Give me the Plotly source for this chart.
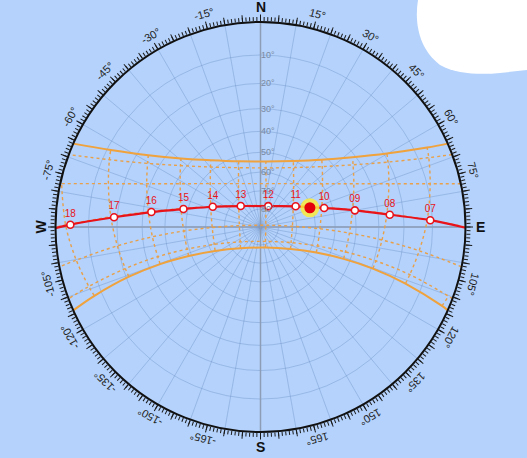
import numpy as np
import plotly.graph_objects as go

# ------------------------------------------------------------------ data
ALT_TICKS = [10, 20, 30, 40, 50, 60, 70, 80]
ALT_TICK_TEXT = ["10°", "20°", "30°", "40°", "50°", "60°", "70°", "80°"]

AZ_LABEL_ANGLES = [15, 30, 45, 60, 75, 105, 120, 135, 150, 165,
                   -165, -150, -135, -120, -105, -75, -60, -45, -30, -15]
AZ_LABEL_TEXT = ["15°", "30°", "45°", "60°", "75°", "105°", "120°", "135°", "150°", "165°",
                 "-165°", "-150°", "-135°", "-120°", "-105°", "-75°", "-60°", "-45°", "-30°", "-15°"]
CARDINAL_ANGLES = [0, 90, 180, -90]
CARDINAL_TEXT = ["N", "E", "S", "W"]

# today's sun path (azimuth deg from N, clockwise; altitude deg)
DAY_HOURS = ["07", "08", "09", "10", "11", "12", "13", "14", "15", "16", "17", "18"]
DAY_AZ = [87.7, 84.6, 80.0, 73.4, 59.5, 20.4, -43.3, -67.0, -76.9, -82.2, -86.2, -89.3]
DAY_ALT = [10.7, 25.3, 39.9, 54.1, 67.5, 77.6, 74.0, 61.6, 47.8, 33.5, 18.8, 4.3]
DAY_RISE_AZ, DAY_SET_AZ = 90.2, -90.3
SUN_AZ, SUN_ALT = 68.7, 61.0

# grid of sun positions: rows = dates, columns = clock hours 06..18
GRID_HOURS = [6, 7, 8, 9, 10, 11, 12, 13, 14, 15, 16, 17, 18]
JUN_AZ = [None, 64.5, 59.8, 52.8, 42.3, 26.4, 4.7, -18.3, -36.7, -49.2, -57.4, -62.8, None]
JUN_ALT = [None, 6.0, 19.0, 31.2, 42.1, 50.4, 54.4, 52.7, 45.8, 35.8, 24.0, 11.2, None]
MAY_AZ = [None, 67.6, 63.0, 56.1, 45.6, 29.0, 5.3, -20.3, -39.8, -52.5, -60.6, -66.0, None]
MAY_ALT = [None, 6.8, 20.2, 32.9, 44.3, 53.3, 57.7, 55.7, 48.3, 37.6, 25.4, 12.2, None]
APR_AZ = [None, 75.7, 71.4, 65.1, 55.1, 37.4, 7.2, -26.9, -49.2, -61.7, -69.2, -74.1, -77.7]
APR_ALT = [None, 9.0, 23.1, 36.7, 49.5, 60.2, 65.9, 63.3, 54.1, 42.0, 28.6, 14.7, 0.4]
MAR_AZ = [None, 87.5, 84.0, 79.4, 72.2, 57.4, 14.2, -45.6, -67.8, -77.0, -82.3, -86.1, -89.4]
MAR_ALT = [None, 11.7, 26.4, 40.9, 55.1, 68.5, 77.7, 73.1, 60.6, 46.6, 32.2, 17.6, 2.9]
FEB_AZ = [None, 98.5, 96.1, 93.9, 91.7, 88.6, 71.5, -86.4, -90.6, -93.0, -95.2, -97.5, -100.2]
FEB_ALT = [None, 13.9, 28.4, 43.0, 57.7, 72.3, 86.9, 78.2, 63.5, 48.9, 34.2, 19.7, 5.2]
JAN_AZ = [110.2, 107.7, 106.4, 106.3, 108.4, 117.1, 160.6, -126.3, -110.6, -106.8, -106.1, -107.1, -109.1]
JAN_ALT = [1.3, 15.2, 29.2, 43.3, 57.3, 71.0, 81.5, 76.0, 62.9, 49.0, 34.9, 20.8, 6.9]
DEC_AZ = [113.5, 111.3, 110.3, 111.0, 114.6, 126.2, 166.4, -136.7, -117.8, -112.0, -110.3, -110.7, -112.5]
DEC_ALT = [2.0, 15.6, 29.4, 43.1, 56.7, 69.4, 78.2, 73.8, 61.9, 48.6, 34.9, 21.1, 7.5]
# sunrise azimuth of each row (sunset is the mirror)
RISE_AZ = {"JUN": 66.0, "MAY": 69.3, "APR": 77.8, "MAR": 90.0, "FEB": 101.2, "JAN": 110.5, "DEC": 114.0}

ROWS = {"JUN": (JUN_AZ, JUN_ALT), "MAY": (MAY_AZ, MAY_ALT), "APR": (APR_AZ, APR_ALT),
        "MAR": (MAR_AZ, MAR_ALT), "FEB": (FEB_AZ, FEB_ALT), "JAN": (JAN_AZ, JAN_ALT),
        "DEC": (DEC_AZ, DEC_ALT)}
SOLID_ROWS = ["JUN", "DEC"]
ROW_ORDER_S_TO_N = ["DEC", "JAN", "FEB", "MAR", "APR", "MAY", "JUN"]

# ------------------------------------------------------------------ style
BG = "#b4d2fb"
GRID = "rgba(100,135,190,0.36)"
AXIS = "#8d9db6"
ORANGE = "#f0a23c"
ORANGE_D = "#e9a048"
RED = "#e8121a"
FONT = "Liberation Sans, Arial, sans-serif"


def stereo(alt):
    """Stereographic radius of an altitude (zenith = 0, horizon = 1)."""
    return np.tan(np.radians(90.0 - np.asarray(alt, dtype=float)) / 2.0)


fig = go.Figure()

# N-S and E-W axes
fig.add_trace(go.Scatterpolar(r=[1, 0, 1], theta=[0, 0, 180], mode="lines",
                              line=dict(color=AXIS, width=1.5), hoverinfo="skip", subplot="polar"))
fig.add_trace(go.Scatterpolar(r=[1, 0, 1], theta=[90, 90, 270], mode="lines",
                              line=dict(color=AXIS, width=1.5), hoverinfo="skip", subplot="polar"))

# date lines
for name in ROW_ORDER_S_TO_N:
    az, alt = ROWS[name]
    th = [RISE_AZ[name]] + [a for a in az if a is not None] + [-RISE_AZ[name]]
    al = [0.0] + [h for h in alt if h is not None] + [0.0]
    solid = name in SOLID_ROWS
    fig.add_trace(go.Scatterpolar(
        r=stereo(al), theta=th, mode="lines",
        line=dict(color=ORANGE if solid else ORANGE_D, width=2 if solid else 1.4,
                  dash="solid" if solid else "3px,3px", shape="spline", smoothing=1),
        hoverinfo="skip", subplot="polar"))

# hour lines
for i, hr in enumerate(GRID_HOURS):
    th, al = [], []
    for name in ROW_ORDER_S_TO_N:
        az, alt = ROWS[name]
        if az[i] is not None:
            th.append(az[i])
            al.append(alt[i])
    if len(th) >= 2:
        fig.add_trace(go.Scatterpolar(
            r=stereo(al), theta=th, mode="lines",
            line=dict(color=ORANGE_D, width=1.4, dash="3px,3px", shape="spline", smoothing=1),
            hoverinfo="skip", subplot="polar"))

# today's path
path_th = [DAY_RISE_AZ] + DAY_AZ + [DAY_SET_AZ]
path_al = [0.0] + DAY_ALT + [0.0]
fig.add_trace(go.Scatterpolar(r=stereo(path_al), theta=path_th, mode="lines",
                              line=dict(color=RED, width=2.2, shape="spline", smoothing=1),
                              hoverinfo="skip", subplot="polar"))
fig.add_trace(go.Scatterpolar(r=stereo(DAY_ALT), theta=DAY_AZ, mode="markers+text",
                              text=DAY_HOURS, textposition="top center",
                              textfont=dict(color=RED, size=10, family=FONT),
                              marker=dict(size=7, color="white", line=dict(color=RED, width=1.6)),
                              hoverinfo="skip", subplot="polar"))
# sun
fig.add_trace(go.Scatterpolar(r=stereo([SUN_ALT]), theta=[SUN_AZ], mode="markers",
                              marker=dict(size=19, color="rgba(250,235,60,0.85)", line=dict(width=0)),
                              hoverinfo="skip", subplot="polar"))
fig.add_trace(go.Scatterpolar(r=stereo([SUN_ALT]), theta=[SUN_AZ], mode="markers",
                              marker=dict(size=11, color="#e3000b", line=dict(width=0)),
                              hoverinfo="skip", subplot="polar"))

# dummy traces for the tick-ring overlays
for sp in ["polar2", "polar3"]:
    fig.add_trace(go.Scatterpolar(r=[0], theta=[0], mode="markers", marker=dict(opacity=0),
                                  hoverinfo="skip", subplot=sp))

# ------------------------------------------------------------------ layout
W, H = 527, 458
ML, MR, MT, MB = 55, 61, 22, 26
PW, PH = W - ML - MR, H - MT - MB
CX, CY = ML + PW / 2.0, MT + PH / 2.0


def to_paper(px, py):
    return (px - ML) / PW, (H - MB - py) / PH


annotations = []
LAB_R = 220
for ang, txt in zip(AZ_LABEL_ANGLES, AZ_LABEL_TEXT):
    t = np.radians(ang)
    xp, yp = to_paper(CX + LAB_R * np.sin(t), CY - LAB_R * np.cos(t))
    annotations.append(dict(x=xp, y=yp, xref="paper", yref="paper", text=txt, showarrow=False,
                            textangle=ang, xanchor="center", yanchor="middle",
                            font=dict(size=11, color="#222", family=FONT)))
for ang, txt in zip(CARDINAL_ANGLES, CARDINAL_TEXT):
    t = np.radians(ang)
    xp, yp = to_paper(CX + LAB_R * np.sin(t), CY - LAB_R * np.cos(t))
    rot = {"N": 0, "E": 0, "S": 0, "W": -90}[txt]
    annotations.append(dict(x=xp, y=yp, xref="paper", yref="paper", text="<b>%s</b>" % txt,
                            showarrow=False, textangle=rot, xanchor="center", yanchor="middle",
                            font=dict(size=14, color="#111", family=FONT)))

# white blob, top right corner
bx = [418, 414, 420, 440, 456, 480, 500, 527, 527]
by = [0, 25, 50, 65, 74, 75, 73, 70, 0]
pts = [to_paper(x, y) for x, y in zip(bx, by)]
blob = ("M {0[0]},{0[1]} C {1[0]},{1[1]} {2[0]},{2[1]} {3[0]},{3[1]} "
        "C {4[0]},{4[1]} {5[0]},{5[1]} {6[0]},{6[1]} L {7[0]},{7[1]} L {8[0]},{8[1]} Z").format(*pts)

fig.update_layout(
    width=W, height=H, margin=dict(l=ML, r=MR, t=MT, b=MB),
    paper_bgcolor=BG, plot_bgcolor=BG, showlegend=False,
    annotations=annotations,
    shapes=[dict(type="path", path=blob, xref="paper", yref="paper",
                 fillcolor="white", line=dict(width=0), layer="above")],
    polar=dict(
        bgcolor=BG,
        domain=dict(x=[0, 1], y=[0, 1]),
        radialaxis=dict(range=[0, 1], tickvals=stereo(ALT_TICKS), ticktext=ALT_TICK_TEXT,
                        showline=False, ticks="", angle=90, tickangle=90, side="clockwise",
                        gridcolor=GRID, gridwidth=1,
                        tickfont=dict(size=9, color="#7a89a2", family=FONT)),
        angularaxis=dict(rotation=90, direction="clockwise", tickvals=list(range(0, 360, 10)),
                         showticklabels=False, ticks="", showline=False,
                         gridcolor=GRID, gridwidth=1),
    ),
    polar2=dict(
        bgcolor="rgba(0,0,0,0)", domain=dict(x=[0, 1], y=[0, 1]),
        radialaxis=dict(visible=False, range=[0, 1]),
        angularaxis=dict(rotation=90, direction="clockwise", tickvals=list(range(0, 360, 1)),
                         showticklabels=False, ticks="outside", ticklen=4, tickwidth=1,
                         tickcolor="#1a1a1a", showgrid=False, showline=True,
                         linecolor="#111", linewidth=2),
    ),
    polar3=dict(
        bgcolor="rgba(0,0,0,0)", domain=dict(x=[0, 1], y=[0, 1]),
        radialaxis=dict(visible=False, range=[0, 1]),
        angularaxis=dict(rotation=90, direction="clockwise", tickvals=list(range(0, 360, 5)),
                         showticklabels=False, ticks="outside", ticklen=7, tickwidth=1,
                         tickcolor="#1a1a1a", showgrid=False, showline=False),
    ),
)

fig.write_html("out.html", config={"displayModeBar": False, "staticPlot": True},
               post_script="document.body.style.margin='0px';document.body.style.padding='0px';"
                           "document.body.style.background='#b4d2fb';")
